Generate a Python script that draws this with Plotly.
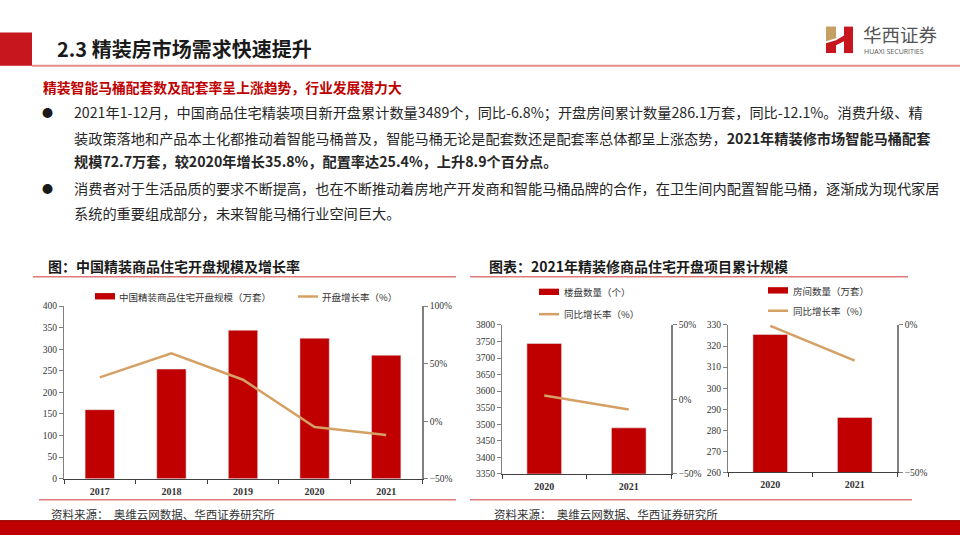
import plotly.graph_objects as go

# ---------------- data ----------------
years_1 = ["2017", "2018", "2019", "2020", "2021"]
scale_1 = [160, 254, 344, 325.5, 286.1]          # 万套
growth_1 = [38, 59, 36, -5, -12.1]               # %

years_2 = ["2020", "2021"]
projects_2 = [3744, 3489]                         # 个
growth_2 = [2.6, -6.8]                            # %

years_3 = ["2020", "2021"]
rooms_3 = [325.5, 286.1]                          # 万套
growth_3 = [-0.3, -12.1]                          # %

BAR = "#c00000"
LINE = "#d4a064"
SERIF = "Liberation Serif"
CJK = "Noto Sans CJK SC"
AX = "#808080"


def px(x):
    return x / 960


def py(y):
    return 1 - y / 540


fig = go.Figure()

# chart 1
fig.add_trace(go.Bar(x=years_1, y=scale_1, marker_color=BAR, width=0.41,
                     xaxis="x", yaxis="y", showlegend=False))
fig.add_trace(go.Scatter(x=years_1, y=growth_1, mode="lines", line=dict(color=LINE, width=2.5),
                         xaxis="x", yaxis="y2", showlegend=False, cliponaxis=False))
# chart 2
fig.add_trace(go.Bar(x=years_2, y=projects_2, marker_color=BAR, width=0.41,
                     xaxis="x2", yaxis="y3", showlegend=False))
fig.add_trace(go.Scatter(x=years_2, y=growth_2, mode="lines", line=dict(color=LINE, width=2.5),
                         xaxis="x2", yaxis="y4", showlegend=False, cliponaxis=False))
# chart 3
fig.add_trace(go.Bar(x=years_3, y=rooms_3, marker_color=BAR, width=0.41,
                     xaxis="x3", yaxis="y5", showlegend=False))
fig.add_trace(go.Scatter(x=years_3, y=growth_3, mode="lines", line=dict(color=LINE, width=2.5),
                         xaxis="x3", yaxis="y6", showlegend=False, cliponaxis=False))

xfont = dict(family=SERIF, size=10, color="#333333", weight="bold")
yfont = dict(family=SERIF, size=9.5, color="#333333")


def xax(domain, anchor):
    return dict(domain=domain, anchor=anchor, type="category", showline=True, linecolor="#404040",
                linewidth=1, ticks="outside", tickson="boundaries", ticklen=4, tickcolor="#404040",
                tickfont=xfont, showgrid=False, zeroline=False, fixedrange=True,
                ticklabelstandoff=3)


def yleft(domain, anchor, rng, dtick):
    return dict(domain=domain, anchor=anchor, range=rng, dtick=dtick, showline=True, linecolor=AX,
                linewidth=1, ticks="outside", ticklen=4, tickcolor=AX, tickfont=yfont,
                showgrid=False, zeroline=False, fixedrange=True)


def yright(overlay, anchor, rng, dtick):
    return dict(overlaying=overlay, anchor=anchor, side="right", range=rng, dtick=dtick,
                ticksuffix="%", showline=True, linecolor=AX, linewidth=1.5, ticks="outside",
                ticklen=4, tickcolor=AX, tickfont=yfont, showgrid=False, zeroline=False,
                fixedrange=True)


d1x = [px(64), px(422)]
d1y = [py(482.7), py(306.7)]
d2x = [px(502), px(671)]
d2y = [py(477.7), py(326)]
d3x = [px(728), px(897)]
d3y = [py(476.3), py(326)]

fig.update_layout(
    xaxis=xax(d1x, "y"),
    yaxis=yleft(d1y, "x", [0, 400], 50),
    yaxis2=yright("y", "x", [-50, 100], 50),
    xaxis2=xax(d2x, "y3"),
    yaxis3=yleft(d2y, "x2", [3350, 3800], 50),
    yaxis4=yright("y3", "x2", [-50, 50], 50),
    xaxis3=xax(d3x, "y5"),
    yaxis5=yleft(d3y, "x3", [260, 330], 10),
    yaxis6=yright("y5", "x3", [-50, 0], 50),
)

shapes = []
ann = []


def rect(x0, y0, x1, y1, color):
    shapes.append(dict(type="rect", xref="paper", yref="paper", x0=px(x0), x1=px(x1),
                       y0=py(y1), y1=py(y0), fillcolor=color, line=dict(width=0), layer="above"))


def hline(x0, x1, y, color, width):
    shapes.append(dict(type="line", xref="paper", yref="paper", x0=px(x0), x1=px(x1),
                       y0=py(y), y1=py(y), line=dict(color=color, width=width)))


def poly(points, color):
    path = "M " + " L ".join(f"{px(a):.5f},{py(b):.5f}" for a, b in points) + " Z"
    shapes.append(dict(type="path", xref="paper", yref="paper", path=path, fillcolor=color,
                       line=dict(width=0)))


def text(x, y, s, size, color="#262626", family=CJK, xanchor="left", bold=False):
    if bold:
        s = f"<b>{s}</b>"
    ann.append(dict(x=px(x), y=py(y), xref="paper", yref="paper", text=s, showarrow=False,
                    xanchor=xanchor, yanchor="middle", font=dict(family=family, size=size, color=color)))


# header
rect(0, 28, 32, 62, "#c8161e")
hline(32, 960, 62, "#e58c8c", 2)
text(55, 44, "2.3 精装房市场需求快速提升", 20, "#1a1a1a", bold=True)

# logo
poly([(826, 22), (836, 22), (836, 34), (826, 37)], "#c5a063")
poly([(826, 39), (836, 36), (836, 49), (826, 49)], "#c8161e")
poly([(836, 36), (844, 31), (844, 37), (836, 41)], "#c8161e")
poly([(844, 22), (853, 22), (853, 49), (844, 49)], "#c8161e")
text(861, 30, "华西证券", 18.5, "#555555")
text(862, 47.5, "HUAXI SECURITIES", 7, "#555555", family="Open Sans")

# subtitle & body
text(41, 84, "精装智能马桶配套数及配套率呈上涨趋势，行业发展潜力大", 13.8, "#c00000", bold=True)
text(40, 109, "●", 11, "#1a1a1a")
text(40, 186, "●", 11, "#1a1a1a")
body_size = 14.2
text(72, 109, "2021年1-12月，中国商品住宅精装项目新开盘累计数量3489个，同比-6.8%；开盘房间累计数量286.1万套，同比-12.1%。消费升级、精", body_size)
text(72, 135.5, "装政策落地和产品本土化都推动着智能马桶普及，智能马桶无论是配套数还是配套率总体都呈上涨态势，<b>2021年精装修市场智能马桶配套</b>", body_size)
text(72, 159, "<b>规模72.7万套，较2020年增长35.8%，配置率达25.4%，上升8.9个百分点。</b>", body_size)
text(72, 186, "消费者对于生活品质的要求不断提高，也在不断推动着房地产开发商和智能马桶品牌的合作，在卫生间内配置智能马桶，逐渐成为现代家居", body_size)
text(72, 212, "系统的重要组成部分，未来智能马桶行业空间巨大。", body_size)

# chart titles
text(46, 266, "图：中国精装商品住宅开盘规模及增长率", 14, "#1a1a1a", bold=True)
text(487, 266, "图表：2021年精装修商品住宅开盘项目累计规模", 14, "#1a1a1a", bold=True)
hline(33, 456, 277, "#e07a7a", 1.5)
hline(470, 908, 277, "#e07a7a", 1.5)
hline(39, 456, 504, "#e07a7a", 1.5)
hline(470, 912, 504, "#e07a7a", 1.5)

# legends
leg = 9.5
rect(95, 293.5, 115, 300, BAR)
text(117, 297, "中国精装商品住宅开盘规模（万套）", leg, "#333333")
hline(298, 318, 297, LINE, 2.5)
text(320, 297, "开盘增长率（%）", leg, "#333333")

rect(539, 289, 559, 295.5, BAR)
text(562, 292, "楼盘数量（个）", leg, "#333333")
hline(539, 559, 315, LINE, 2.5)
text(562, 315, "同比增长率（%）", leg, "#333333")

rect(768, 287.5, 788, 294, BAR)
text(791, 291, "房间数量（万套）", leg, "#333333")
hline(768, 788, 311.5, LINE, 2.5)
text(791, 311.5, "同比增长率（%）", leg, "#333333")

# footer
text(49, 518.5, "资料来源：  奥维云网数据、华西证券研究所", 11.5, "#333333")
text(492, 518.5, "资料来源：  奥维云网数据、华西证券研究所", 11.5, "#333333")
rect(0, 525, 960, 540, "#c00000")
hline(0, 960, 525.5, "#8a0000", 1)

fig.update_layout(
    width=960, height=540, margin=dict(l=0, r=0, t=0, b=0),
    paper_bgcolor="white", plot_bgcolor="white",
    shapes=shapes, annotations=ann, showlegend=False,
)

fig.write_html("out.html", config={"displayModeBar": False},
               post_script="document.body.style.margin='0';document.body.style.overflow='hidden';")
